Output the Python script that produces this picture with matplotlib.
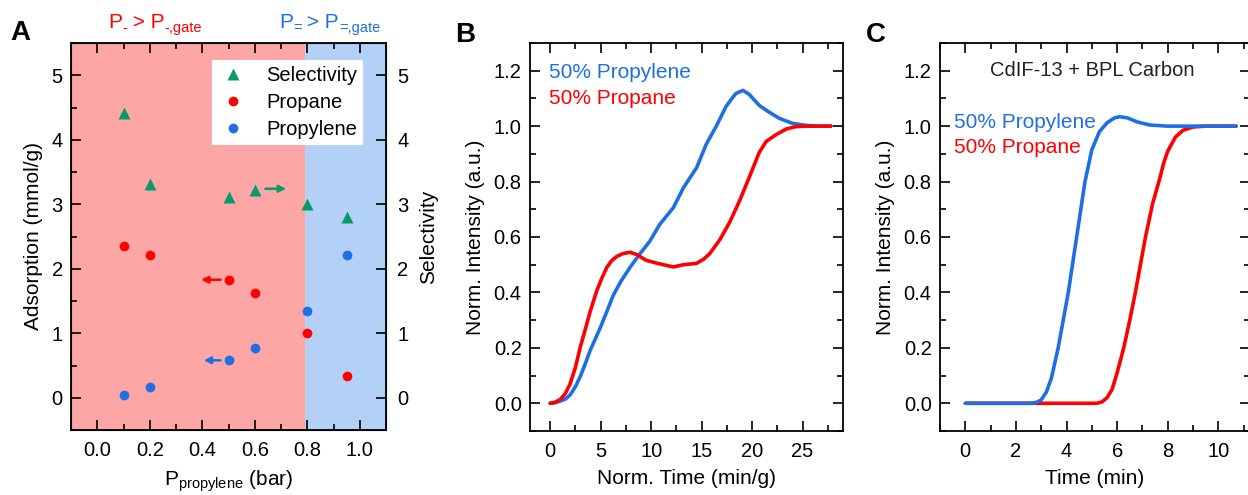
import matplotlib
matplotlib.use("Agg")
import matplotlib.pyplot as plt
from matplotlib.ticker import MultipleLocator
from matplotlib.transforms import offset_copy
import numpy as np

plt.rcParams['font.family'] = ['Liberation Sans', 'DejaVu Sans']
plt.rcParams['mathtext.fontset'] = 'custom'
plt.rcParams['mathtext.rm'] = 'Liberation Sans'
plt.rcParams['mathtext.it'] = 'Liberation Sans:italic'
plt.rcParams['mathtext.bf'] = 'Liberation Sans:bold'

# ---------------- Data ----------------
# Panel A
pressure = [0.1, 0.2, 0.5, 0.6, 0.8, 0.95]
selectivity = [4.41, 3.31, 3.12, 3.22, 3.01, 2.81]
propane_ads = [2.36, 2.21, 1.83, 1.62, 1.00, 0.33]
propylene_ads = [0.05, 0.17, 0.58, 0.77, 1.35, 2.21]
gate_pressure = 0.79

# Panel B (normalized breakthrough)
b_prop_x = [0, 0.5, 1.0, 1.5, 1.97, 2.5, 2.96, 3.5, 3.95, 4.5, 4.93, 5.6, 6.25, 7.0, 7.9, 8.9,
            9.87, 10.86, 12.2, 13.2, 14.5, 15.46, 16.45, 17.4, 18.0, 18.4, 19.1, 19.7, 20.2,
            20.7, 21.7, 22.7, 24.0, 25.3, 26.5, 27.8]
b_prop_y = [0, 0.002, 0.008, 0.015, 0.03, 0.06, 0.095, 0.145, 0.19, 0.235, 0.27, 0.33, 0.39,
            0.44, 0.49, 0.54, 0.585, 0.646, 0.706, 0.778, 0.85, 0.935, 1.0, 1.07, 1.10, 1.118,
            1.129, 1.115, 1.095, 1.075, 1.05, 1.028, 1.01, 1.003, 1.0, 1.0]
b_pane_x = [0, 0.5, 1.0, 1.5, 1.97, 2.5, 2.96, 3.5, 3.95, 4.6, 5.1, 5.6, 6.1, 6.6, 7.2, 7.9,
            8.55, 9.5, 10.4, 11.2, 12.2, 13.2, 14.5, 15.2, 15.8, 16.8, 17.8, 18.75, 19.7, 20.7,
            21.4, 22.4, 23.4, 24.3, 25.3, 26.5, 27.8]
b_pane_y = [0, 0.004, 0.014, 0.035, 0.07, 0.13, 0.2, 0.27, 0.33, 0.405, 0.45, 0.49, 0.515,
            0.53, 0.54, 0.545, 0.537, 0.516, 0.507, 0.50, 0.492, 0.50, 0.505, 0.52, 0.54, 0.59,
            0.655, 0.73, 0.814, 0.905, 0.945, 0.97, 0.99, 0.998, 1.0, 1.0, 1.0]

# Panel C
c_prop_x = [0, 2.6, 2.8, 3.0, 3.2, 3.4, 3.67, 4.07, 4.4, 4.73, 5.0, 5.3, 5.6, 5.9, 6.1, 6.4,
            6.8, 7.3, 8.0, 10.7]
c_prop_y = [0, 0, 0.003, 0.012, 0.04, 0.09, 0.2, 0.4, 0.6, 0.8, 0.915, 0.98, 1.012, 1.03,
            1.034, 1.03, 1.015, 1.004, 1.0, 1.0]
c_pane_x = [0, 5.2, 5.4, 5.6, 5.8, 6.0, 6.26, 6.5, 6.72, 7.12, 7.4, 7.65, 7.85, 8.0, 8.3,
            8.6, 9.0, 9.5, 10.7]
c_pane_y = [0, 0, 0.005, 0.02, 0.05, 0.11, 0.2, 0.30, 0.4, 0.6, 0.72, 0.8, 0.87, 0.91, 0.96,
            0.985, 0.997, 1.0, 1.0]

# ---------------- Style ----------------
RED = '#FF0000'
BLUE = '#1E6FE3'
GREEN = '#0A9A6A'
PINK_BG = '#FCA6A6'
BLUE_BG = '#B3D1F7'
FS = 14.5
LFS = 15
TFS = 15

W, H = 1248, 495
fig = plt.figure(figsize=(W / 100, H / 100), dpi=100)


def box(l, r, t, b):
    return [l / W, 1 - b / H, (r - l) / W, (b - t) / H]


def style(ax, right=True, top=True):
    ax.tick_params(which='both', direction='in', top=top, right=right, labelsize=FS)
    ax.tick_params(which='major', length=7, width=1.2)
    ax.tick_params(which='minor', length=4, width=1.2)
    for s in ax.spines.values():
        s.set_linewidth(1.3)


def rich_text(ax, xc, y, parts, color, transform):
    """Draw text pieces (string, size, dy_points) side by side, centred at xc."""
    renderer = fig.canvas.get_renderer()
    widths = []
    for s, size, dy in parts:
        t = ax.text(0, 0, s, fontsize=size, transform=transform)
        widths.append(t.get_window_extent(renderer).width)
        t.remove()
    total = sum(widths)
    off = -total / 2.0
    for (s, size, dy), w in zip(parts, widths):
        tr = offset_copy(transform, fig=fig, x=off * 72 / fig.dpi, y=dy, units='points')
        ax.text(xc, y, s, fontsize=size, color=color, transform=tr, ha='left', va='baseline')
        off += w


# ---------------- Panel A ----------------
axA = fig.add_axes(box(71, 386, 43, 430))
axA.set_xlim(-0.1, 1.1)
axA.set_ylim(-0.5, 5.5)
axA.axvspan(-0.1, gate_pressure, color=PINK_BG, lw=0, zorder=0)
axA.axvspan(gate_pressure, 1.1, color=BLUE_BG, lw=0, zorder=0)
axA.xaxis.set_minor_locator(MultipleLocator(0.1))
axA.yaxis.set_major_locator(MultipleLocator(1))
axA.yaxis.set_minor_locator(MultipleLocator(0.5))
axA.set_xticks([0, 0.2, 0.4, 0.6, 0.8, 1.0])
axA.set_xticklabels(['0.0', '0.2', '0.4', '0.6', '0.8', '1.0'])
style(axA, right=False)
axA.tick_params(axis='x', pad=8)
axA.tick_params(axis='y', pad=6)

h1, = axA.plot(pressure, propane_ads, 'o', color=RED, ms=7, mec='none', label='Propane', zorder=3)
h2, = axA.plot(pressure, propylene_ads, 'o', color=BLUE, ms=7, mec='none', label='Propylene', zorder=3)
axA.set_xlabel(r'P$_{\mathrm{propylene}}$ (bar)', fontsize=LFS, labelpad=6)
axA.set_ylabel('Adsorption (mmol/g)', fontsize=LFS, labelpad=6)

axA2 = axA.twinx()
axA2.set_ylim(-0.5, 5.5)
axA2.yaxis.set_major_locator(MultipleLocator(1))
axA2.tick_params(axis='y', which='both', direction='in', labelsize=FS, length=7, width=1.2, pad=8)
axA2.yaxis.set_minor_locator(plt.NullLocator())
h3, = axA2.plot(pressure, selectivity, '^', color=GREEN, ms=8, mec='none', label='Selectivity', zorder=3)
axA2.set_ylabel('Selectivity', fontsize=LFS, labelpad=8)

leg = axA2.legend(handles=[h3, h1, h2], loc='upper right', fontsize=FS, frameon=True,
                  fancybox=False, edgecolor='none', framealpha=1.0, borderaxespad=0.0,
                  handletextpad=0.9, labelspacing=0.4, borderpad=0.3, handlelength=1.5,
                  bbox_to_anchor=(0.927, 0.956))

# arrows
arrow_kw = dict(arrowstyle='-|>', lw=1.8, mutation_scale=10)
axA2.annotate('', xy=(pressure[3] + 0.13, selectivity[3] + 0.02), xytext=(pressure[3] + 0.03, selectivity[3] + 0.02),
              arrowprops=dict(color=GREEN, **arrow_kw))
axA.annotate('', xy=(pressure[2] - 0.115, propane_ads[2]), xytext=(pressure[2] - 0.02, propane_ads[2]),
             arrowprops=dict(color=RED, **arrow_kw))
axA.annotate('', xy=(pressure[2] - 0.105, propylene_ads[2]), xytext=(pressure[2] - 0.02, propylene_ads[2]),
             arrowprops=dict(color=BLUE, **arrow_kw))

trA = axA.get_xaxis_transform()
SUB = 10.5
rich_text(axA, 0.22, 1.04, [('P', TFS, 0), ('-', SUB, -3.5), (' > P', TFS, 0), ('-,gate', SUB, -3.5)], RED, trA)
rich_text(axA, 0.885, 1.04, [('P', TFS, 0), ('=', SUB, -3.5), (' > P', TFS, 0), ('=,gate', SUB, -3.5)], BLUE, trA)

# ---------------- Panel B ----------------
axB = fig.add_axes(box(530, 843, 43, 431))
axB.plot(b_prop_x, b_prop_y, '-', color=BLUE, lw=2.6, solid_capstyle='round', solid_joinstyle='round')
axB.plot(b_pane_x, b_pane_y, '-', color=RED, lw=2.6, solid_capstyle='round', solid_joinstyle='round')
axB.set_xlim(-2, 29)
axB.set_ylim(-0.1, 1.3)
axB.xaxis.set_major_locator(MultipleLocator(5))
axB.xaxis.set_minor_locator(MultipleLocator(2.5))
axB.yaxis.set_minor_locator(MultipleLocator(0.1))
axB.set_yticks([0, 0.2, 0.4, 0.6, 0.8, 1.0, 1.2])
axB.set_yticklabels(['0.0', '0.2', '0.4', '0.6', '0.8', '1.0', '1.2'])
style(axB)
axB.tick_params(axis='x', pad=8)
axB.tick_params(axis='y', pad=6)
axB.set_xlabel('Norm. Time (min/g)', fontsize=LFS, labelpad=6)
axB.set_ylabel('Norm. Intensity (a.u.)', fontsize=LFS, labelpad=6)
axB.text(-0.1, 1.195, '50% Propylene', color=BLUE, fontsize=TFS, ha='left', va='center')
axB.text(-0.1, 1.10, '50% Propane', color=RED, fontsize=TFS, ha='left', va='center')

# ---------------- Panel C ----------------
axC = fig.add_axes(box(940, 1250, 43, 431))
axC.plot(c_prop_x, c_prop_y, '-', color=BLUE, lw=2.6, solid_capstyle='round', solid_joinstyle='round', zorder=3)
axC.plot(c_pane_x, c_pane_y, '-', color=RED, lw=2.6, solid_capstyle='round', solid_joinstyle='round', zorder=2)
axC.set_xlim(-1, 11.25)
axC.set_ylim(-0.1, 1.3)
axC.xaxis.set_major_locator(MultipleLocator(2))
axC.xaxis.set_minor_locator(MultipleLocator(1))
axC.yaxis.set_minor_locator(MultipleLocator(0.1))
axC.set_yticks([0, 0.2, 0.4, 0.6, 0.8, 1.0, 1.2])
axC.set_yticklabels(['0.0', '0.2', '0.4', '0.6', '0.8', '1.0', '1.2'])
style(axC)
axC.tick_params(axis='x', pad=8)
axC.tick_params(axis='y', pad=6)
axC.set_xlabel('Time (min)', fontsize=LFS, labelpad=6)
axC.set_ylabel('Norm. Intensity (a.u.)', fontsize=LFS, labelpad=6)
axC.text(5.03, 1.2, 'CdIF-13 + BPL Carbon', color='#222222', fontsize=14.5, ha='center', va='center')
axC.text(-0.45, 1.012, '50% Propylene', color=BLUE, fontsize=TFS, ha='left', va='center', zorder=4)
axC.text(-0.45, 0.922, '50% Propane', color=RED, fontsize=TFS, ha='left', va='center', zorder=4)

# ---------------- Panel letters ----------------
fig.text(10 / W, 1 - 33 / H, 'A', fontsize=20, fontweight='bold', ha='left', va='center')
fig.text(455 / W, 1 - 35 / H, 'B', fontsize=20, fontweight='bold', ha='left', va='center')
fig.text(866 / W, 1 - 35 / H, 'C', fontsize=20, fontweight='bold', ha='left', va='center')

fig.savefig('out.png', dpi=100)
